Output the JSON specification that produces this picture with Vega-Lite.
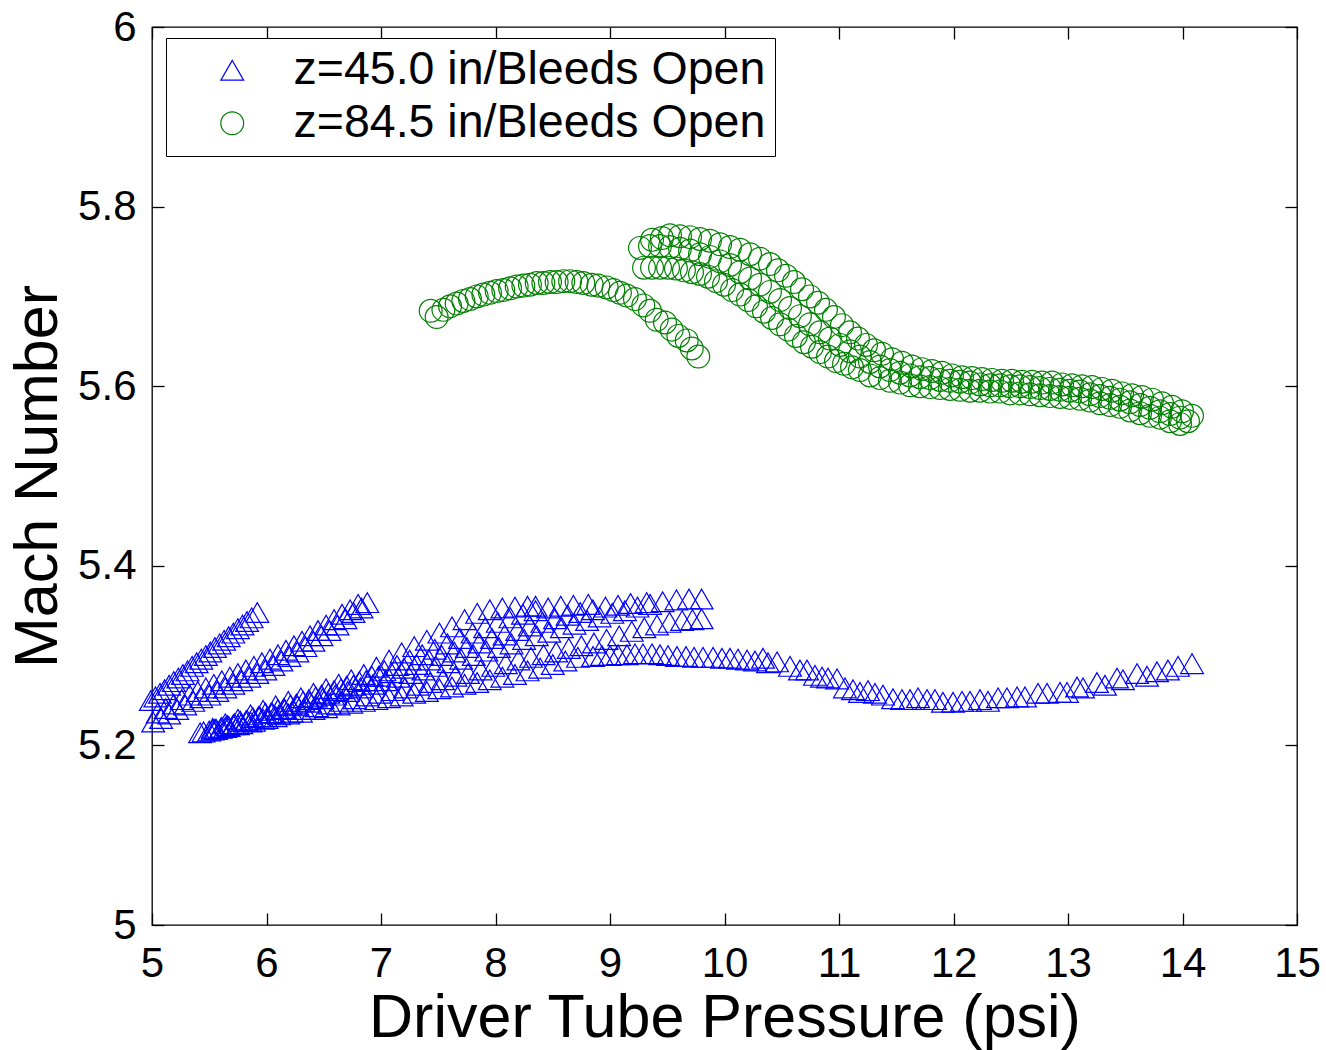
{
"$schema": "https://vega.github.io/schema/vega-lite/v6.json",
"width": 1145, "height": 898,
"autosize": {"type": "none"},
"padding": {"left": 152, "top": 27, "right": 29, "bottom": 125},
"background": "white",
"config": {
  "view": {"stroke": "black", "strokeWidth": 1.3},
  "font": "Liberation Sans",
  "axis": {"grid": false, "domain": false, "ticks": true, "tickColor": "black", "tickWidth": 1.3, "tickSize": -12,
    "labelColor": "black", "labelFont": "Liberation Sans", "labelFontSize": 42,
    "titleFont": "Liberation Sans", "titleFontSize": 61, "titleFontWeight": "normal", "titleColor": "black"},
  "legend": {"labelFont": "Liberation Sans", "labelFontSize": 46.5, "labelColor": "black"}
},
"datasets": {
"blue": [
{"psi":4.99,"mach":5.250},{"psi":5.03,"mach":5.254},{"psi":5.07,"mach":5.258},{"psi":5.11,"mach":5.262},{"psi":5.15,"mach":5.267},{"psi":5.19,"mach":5.271},{"psi":5.23,"mach":5.275},{"psi":5.27,"mach":5.279},{"psi":5.31,"mach":5.283},{"psi":5.35,"mach":5.288},{"psi":5.39,"mach":5.292},{"psi":5.43,"mach":5.296},{"psi":5.47,"mach":5.300},{"psi":5.51,"mach":5.304},{"psi":5.55,"mach":5.309},{"psi":5.59,"mach":5.313},{"psi":5.63,"mach":5.317},{"psi":5.67,"mach":5.321},{"psi":5.71,"mach":5.325},{"psi":5.75,"mach":5.330},{"psi":5.79,"mach":5.334},{"psi":5.83,"mach":5.338},{"psi":5.87,"mach":5.342},{"psi":5.92,"mach":5.348},
{"psi":5.01,"mach":5.226},{"psi":5.08,"mach":5.230},{"psi":5.15,"mach":5.235},{"psi":5.22,"mach":5.240},{"psi":5.29,"mach":5.245},{"psi":5.36,"mach":5.249},{"psi":5.43,"mach":5.253},{"psi":5.50,"mach":5.256},{"psi":5.57,"mach":5.260},{"psi":5.64,"mach":5.264},{"psi":5.71,"mach":5.268},{"psi":5.78,"mach":5.272},{"psi":5.85,"mach":5.276},{"psi":5.92,"mach":5.280},{"psi":5.99,"mach":5.284},{"psi":6.06,"mach":5.289},{"psi":6.13,"mach":5.294},{"psi":6.20,"mach":5.299},{"psi":6.27,"mach":5.304},{"psi":6.34,"mach":5.310},{"psi":6.41,"mach":5.316},{"psi":6.48,"mach":5.322},{"psi":6.55,"mach":5.328},{"psi":6.62,"mach":5.334},{"psi":6.69,"mach":5.341},{"psi":6.76,"mach":5.348},{"psi":6.83,"mach":5.353},{"psi":6.88,"mach":5.359},
{"psi":5.05,"mach":5.236},{"psi":5.12,"mach":5.241},{"psi":5.19,"mach":5.246},{"psi":5.26,"mach":5.251},{"psi":5.33,"mach":5.256},{"psi":5.40,"mach":5.260},{"psi":5.47,"mach":5.264},{"psi":5.54,"mach":5.268},{"psi":5.61,"mach":5.272},{"psi":5.68,"mach":5.276},{"psi":5.75,"mach":5.280},{"psi":5.82,"mach":5.284},{"psi":5.89,"mach":5.288},{"psi":5.96,"mach":5.292},{"psi":6.03,"mach":5.296},{"psi":6.10,"mach":5.301},{"psi":6.17,"mach":5.306},{"psi":6.24,"mach":5.311},{"psi":6.31,"mach":5.316},{"psi":6.38,"mach":5.322},{"psi":6.45,"mach":5.328},{"psi":6.52,"mach":5.334},{"psi":6.59,"mach":5.340},{"psi":6.66,"mach":5.346},{"psi":6.73,"mach":5.351},{"psi":6.80,"mach":5.357},
{"psi":5.42,"mach":5.214},{"psi":5.53,"mach":5.217},{"psi":5.64,"mach":5.220},{"psi":5.75,"mach":5.223},{"psi":5.86,"mach":5.226},{"psi":5.97,"mach":5.229},{"psi":6.08,"mach":5.232},{"psi":6.19,"mach":5.235},{"psi":6.30,"mach":5.237},{"psi":6.41,"mach":5.240},{"psi":6.52,"mach":5.242},{"psi":6.63,"mach":5.245},{"psi":6.74,"mach":5.247},{"psi":6.85,"mach":5.249},{"psi":6.96,"mach":5.251},{"psi":7.07,"mach":5.253},{"psi":7.18,"mach":5.255},{"psi":7.29,"mach":5.258},{"psi":7.40,"mach":5.260},{"psi":7.51,"mach":5.263},{"psi":7.62,"mach":5.265},{"psi":7.73,"mach":5.268},{"psi":7.84,"mach":5.270},{"psi":7.95,"mach":5.273},{"psi":8.06,"mach":5.276},{"psi":8.17,"mach":5.279},{"psi":8.28,"mach":5.283},{"psi":8.39,"mach":5.286},{"psi":8.50,"mach":5.290},{"psi":8.61,"mach":5.294},{"psi":8.72,"mach":5.298},
{"psi":8.852,"mach":5.299},{"psi":8.930,"mach":5.300},{"psi":9.000,"mach":5.300},{"psi":9.070,"mach":5.301},{"psi":9.148,"mach":5.301},{"psi":9.218,"mach":5.302},{"psi":9.288,"mach":5.302},{"psi":9.367,"mach":5.302},{"psi":9.437,"mach":5.301},{"psi":9.507,"mach":5.300},{"psi":9.585,"mach":5.299},{"psi":9.664,"mach":5.299},{"psi":9.734,"mach":5.298},{"psi":9.812,"mach":5.298},{"psi":9.900,"mach":5.298},{"psi":9.978,"mach":5.297},{"psi":10.048,"mach":5.297},{"psi":10.118,"mach":5.296},{"psi":10.197,"mach":5.295},{"psi":10.266,"mach":5.294},{"psi":10.336,"mach":5.297},{"psi":10.380,"mach":5.292},{"psi":10.459,"mach":5.293},{"psi":10.572,"mach":5.288},{"psi":10.659,"mach":5.284},{"psi":10.721,"mach":5.284},{"psi":10.790,"mach":5.278},{"psi":10.852,"mach":5.276},{"psi":10.904,"mach":5.275},{"psi":10.983,"mach":5.274},{"psi":11.052,"mach":5.264},{"psi":11.122,"mach":5.262},{"psi":11.183,"mach":5.259},{"psi":11.253,"mach":5.261},{"psi":11.314,"mach":5.258},{"psi":11.384,"mach":5.256},{"psi":11.472,"mach":5.252},{"psi":11.550,"mach":5.251},{"psi":11.620,"mach":5.251},{"psi":11.690,"mach":5.253},{"psi":11.769,"mach":5.251},{"psi":11.838,"mach":5.251},{"psi":11.908,"mach":5.248},{"psi":11.996,"mach":5.248},{"psi":12.074,"mach":5.249},{"psi":12.144,"mach":5.249},{"psi":12.231,"mach":5.251},{"psi":12.301,"mach":5.249},{"psi":12.389,"mach":5.253},{"psi":12.467,"mach":5.253},{"psi":12.555,"mach":5.254},{"psi":12.624,"mach":5.254},{"psi":12.738,"mach":5.258},{"psi":12.817,"mach":5.258},{"psi":12.930,"mach":5.259},{"psi":12.991,"mach":5.259},{"psi":13.079,"mach":5.265},{"psi":13.131,"mach":5.264},{"psi":13.253,"mach":5.270},{"psi":13.323,"mach":5.267},{"psi":13.428,"mach":5.275},{"psi":13.480,"mach":5.273},{"psi":13.603,"mach":5.280},{"psi":13.690,"mach":5.277},{"psi":13.777,"mach":5.282},{"psi":13.873,"mach":5.284},{"psi":13.961,"mach":5.288},{"psi":14.083,"mach":5.291},
{"psi":5.45,"mach":5.215},{"psi":5.56,"mach":5.218},{"psi":5.67,"mach":5.221},{"psi":5.78,"mach":5.224},{"psi":5.89,"mach":5.227},{"psi":6.00,"mach":5.230},{"psi":6.11,"mach":5.234},{"psi":6.22,"mach":5.237},{"psi":6.33,"mach":5.240},{"psi":6.44,"mach":5.243},{"psi":6.55,"mach":5.246},{"psi":6.66,"mach":5.249},{"psi":6.77,"mach":5.252},{"psi":6.88,"mach":5.255},{"psi":6.99,"mach":5.258},{"psi":7.10,"mach":5.261},{"psi":7.21,"mach":5.264},{"psi":7.32,"mach":5.267},{"psi":7.43,"mach":5.270},{"psi":7.54,"mach":5.273},{"psi":7.65,"mach":5.277},{"psi":7.76,"mach":5.280},{"psi":7.87,"mach":5.284},{"psi":7.98,"mach":5.288},{"psi":8.09,"mach":5.291},{"psi":8.20,"mach":5.295},{"psi":8.31,"mach":5.298},{"psi":8.42,"mach":5.301},{"psi":8.53,"mach":5.304},{"psi":8.64,"mach":5.308},{"psi":8.75,"mach":5.311},{"psi":8.86,"mach":5.314},{"psi":8.97,"mach":5.318},{"psi":9.08,"mach":5.322},{"psi":9.19,"mach":5.327},{"psi":9.30,"mach":5.331},{"psi":9.41,"mach":5.334},{"psi":9.52,"mach":5.337},{"psi":9.63,"mach":5.339},{"psi":9.72,"mach":5.340},{"psi":9.80,"mach":5.341},
{"psi":5.50,"mach":5.216},{"psi":5.61,"mach":5.220},{"psi":5.72,"mach":5.224},{"psi":5.83,"mach":5.228},{"psi":5.94,"mach":5.232},{"psi":6.05,"mach":5.236},{"psi":6.16,"mach":5.240},{"psi":6.27,"mach":5.244},{"psi":6.38,"mach":5.248},{"psi":6.49,"mach":5.252},{"psi":6.60,"mach":5.256},{"psi":6.71,"mach":5.260},{"psi":6.82,"mach":5.264},{"psi":6.93,"mach":5.268},{"psi":7.04,"mach":5.272},{"psi":7.15,"mach":5.276},{"psi":7.26,"mach":5.280},{"psi":7.37,"mach":5.284},{"psi":7.48,"mach":5.288},{"psi":7.59,"mach":5.292},{"psi":7.70,"mach":5.296},{"psi":7.81,"mach":5.300},{"psi":7.92,"mach":5.305},{"psi":8.03,"mach":5.309},{"psi":8.14,"mach":5.313},{"psi":8.25,"mach":5.318},{"psi":8.36,"mach":5.322},{"psi":8.47,"mach":5.326},{"psi":8.58,"mach":5.331},{"psi":8.69,"mach":5.335},{"psi":8.80,"mach":5.339},{"psi":8.91,"mach":5.343},{"psi":9.02,"mach":5.347},{"psi":9.13,"mach":5.350},{"psi":9.24,"mach":5.354},{"psi":9.35,"mach":5.357},{"psi":9.46,"mach":5.360},{"psi":9.58,"mach":5.362},{"psi":9.69,"mach":5.363},{"psi":9.80,"mach":5.363},
{"psi":5.55,"mach":5.218},{"psi":5.66,"mach":5.222},{"psi":5.77,"mach":5.227},{"psi":5.88,"mach":5.231},{"psi":5.99,"mach":5.236},{"psi":6.10,"mach":5.240},{"psi":6.21,"mach":5.245},{"psi":6.32,"mach":5.249},{"psi":6.43,"mach":5.254},{"psi":6.54,"mach":5.258},{"psi":6.65,"mach":5.263},{"psi":6.76,"mach":5.267},{"psi":6.87,"mach":5.272},{"psi":6.98,"mach":5.277},{"psi":7.09,"mach":5.281},{"psi":7.20,"mach":5.286},{"psi":7.31,"mach":5.290},{"psi":7.42,"mach":5.295},{"psi":7.53,"mach":5.300},{"psi":7.64,"mach":5.304},{"psi":7.75,"mach":5.309},{"psi":7.86,"mach":5.314},{"psi":7.97,"mach":5.319},{"psi":8.08,"mach":5.323},{"psi":8.19,"mach":5.328},{"psi":8.30,"mach":5.333},{"psi":8.41,"mach":5.337},{"psi":8.52,"mach":5.341},{"psi":8.63,"mach":5.345},{"psi":8.74,"mach":5.348},{"psi":8.85,"mach":5.351},{"psi":8.96,"mach":5.354},{"psi":9.07,"mach":5.356},{"psi":9.18,"mach":5.358},{"psi":9.32,"mach":5.359},
{"psi":5.60,"mach":5.219},{"psi":5.71,"mach":5.223},{"psi":5.82,"mach":5.227},{"psi":5.93,"mach":5.232},{"psi":6.04,"mach":5.236},{"psi":6.15,"mach":5.241},{"psi":6.26,"mach":5.246},{"psi":6.37,"mach":5.251},{"psi":6.48,"mach":5.256},{"psi":6.59,"mach":5.261},{"psi":6.70,"mach":5.266},{"psi":6.81,"mach":5.271},{"psi":6.92,"mach":5.277},{"psi":7.03,"mach":5.283},{"psi":7.14,"mach":5.289},{"psi":7.25,"mach":5.295},{"psi":7.36,"mach":5.301},{"psi":7.47,"mach":5.307},{"psi":7.58,"mach":5.313},{"psi":7.69,"mach":5.319},{"psi":7.80,"mach":5.325},{"psi":7.91,"mach":5.331},{"psi":8.02,"mach":5.337},{"psi":8.13,"mach":5.342},{"psi":8.24,"mach":5.346},{"psi":8.35,"mach":5.350},{"psi":8.46,"mach":5.353},{"psi":8.57,"mach":5.355},{"psi":8.68,"mach":5.356},{"psi":8.81,"mach":5.357},
{"psi":5.53,"mach":5.219},{"psi":5.64,"mach":5.224},{"psi":5.75,"mach":5.229},{"psi":5.86,"mach":5.234},{"psi":5.97,"mach":5.239},{"psi":6.08,"mach":5.244},{"psi":6.19,"mach":5.249},{"psi":6.30,"mach":5.253},{"psi":6.41,"mach":5.258},{"psi":6.52,"mach":5.263},{"psi":6.63,"mach":5.268},{"psi":6.74,"mach":5.273},{"psi":6.85,"mach":5.279},{"psi":6.96,"mach":5.287},{"psi":7.07,"mach":5.295},{"psi":7.18,"mach":5.303},{"psi":7.29,"mach":5.310},{"psi":7.40,"mach":5.317},{"psi":7.51,"mach":5.325},{"psi":7.62,"mach":5.332},{"psi":7.73,"mach":5.340},{"psi":7.84,"mach":5.347},{"psi":7.95,"mach":5.351},{"psi":8.06,"mach":5.353},{"psi":8.17,"mach":5.354},{"psi":8.28,"mach":5.355},{"psi":8.35,"mach":5.355}
],
"green": [
{"psi":7.434,"mach":5.684},{"psi":7.486,"mach":5.677},{"psi":7.545,"mach":5.685},{"psi":7.603,"mach":5.689},{"psi":7.661,"mach":5.692},{"psi":7.719,"mach":5.695},{"psi":7.777,"mach":5.697},{"psi":7.836,"mach":5.700},{"psi":7.894,"mach":5.702},{"psi":7.952,"mach":5.704},{"psi":8.010,"mach":5.706},{"psi":8.068,"mach":5.707},{"psi":8.127,"mach":5.709},{"psi":8.185,"mach":5.711},{"psi":8.243,"mach":5.712},{"psi":8.301,"mach":5.713},{"psi":8.360,"mach":5.715},{"psi":8.418,"mach":5.715},{"psi":8.476,"mach":5.716},{"psi":8.534,"mach":5.716},{"psi":8.592,"mach":5.717},{"psi":8.651,"mach":5.717},{"psi":8.709,"mach":5.716},{"psi":8.767,"mach":5.715},{"psi":8.840,"mach":5.713},{"psi":8.898,"mach":5.712},{"psi":8.971,"mach":5.710},{"psi":9.029,"mach":5.707},{"psi":9.087,"mach":5.704},{"psi":9.146,"mach":5.701},{"psi":9.218,"mach":5.697},{"psi":9.291,"mach":5.690},{"psi":9.349,"mach":5.684},{"psi":9.408,"mach":5.674},{"psi":9.480,"mach":5.671},{"psi":9.539,"mach":5.663},{"psi":9.597,"mach":5.656},{"psi":9.670,"mach":5.651},{"psi":9.714,"mach":5.642},{"psi":9.771,"mach":5.633},
{"psi":9.367,"mach":5.763},{"psi":9.454,"mach":5.765},{"psi":9.524,"mach":5.768},{"psi":9.611,"mach":5.767},{"psi":9.699,"mach":5.766},{"psi":9.786,"mach":5.764},{"psi":9.873,"mach":5.762},{"psi":9.961,"mach":5.758},{"psi":10.048,"mach":5.755},{"psi":10.135,"mach":5.752},{"psi":10.223,"mach":5.747},{"psi":10.310,"mach":5.742},{"psi":10.397,"mach":5.736},{"psi":10.467,"mach":5.729},{"psi":10.537,"mach":5.723},{"psi":10.607,"mach":5.716},{"psi":10.677,"mach":5.708},{"psi":10.747,"mach":5.700},{"psi":10.817,"mach":5.693},{"psi":10.886,"mach":5.685},{"psi":10.956,"mach":5.677},{"psi":11.026,"mach":5.668},{"psi":11.096,"mach":5.660},{"psi":11.166,"mach":5.653},{"psi":11.236,"mach":5.646},{"psi":11.306,"mach":5.640},{"psi":11.376,"mach":5.636},{"psi":11.463,"mach":5.630},{"psi":11.550,"mach":5.626},{"psi":11.638,"mach":5.622},{"psi":11.725,"mach":5.619},{"psi":11.812,"mach":5.617},{"psi":11.900,"mach":5.615},{"psi":11.987,"mach":5.612},{"psi":12.074,"mach":5.610},{"psi":12.162,"mach":5.609},{"psi":12.249,"mach":5.608},{"psi":12.336,"mach":5.607},{"psi":12.424,"mach":5.606},{"psi":12.511,"mach":5.606},{"psi":12.598,"mach":5.605},{"psi":12.686,"mach":5.605},{"psi":12.773,"mach":5.604},{"psi":12.860,"mach":5.604},{"psi":12.948,"mach":5.602},{"psi":13.035,"mach":5.601},{"psi":13.122,"mach":5.600},{"psi":13.210,"mach":5.599},{"psi":13.297,"mach":5.597},{"psi":13.384,"mach":5.595},{"psi":13.472,"mach":5.592},{"psi":13.559,"mach":5.590},{"psi":13.646,"mach":5.588},{"psi":13.734,"mach":5.585},{"psi":13.821,"mach":5.581},{"psi":13.908,"mach":5.577},{"psi":13.996,"mach":5.572},{"psi":14.083,"mach":5.567},
{"psi":9.262,"mach":5.754},{"psi":9.349,"mach":5.756},{"psi":9.437,"mach":5.756},{"psi":9.524,"mach":5.755},{"psi":9.611,"mach":5.753},{"psi":9.699,"mach":5.751},{"psi":9.786,"mach":5.747},{"psi":9.873,"mach":5.744},{"psi":9.961,"mach":5.739},{"psi":10.048,"mach":5.735},{"psi":10.135,"mach":5.727},{"psi":10.223,"mach":5.720},{"psi":10.310,"mach":5.713},{"psi":10.397,"mach":5.705},{"psi":10.485,"mach":5.696},{"psi":10.572,"mach":5.687},{"psi":10.659,"mach":5.678},{"psi":10.747,"mach":5.669},{"psi":10.834,"mach":5.660},{"psi":10.921,"mach":5.653},{"psi":11.009,"mach":5.646},{"psi":11.096,"mach":5.639},{"psi":11.183,"mach":5.633},{"psi":11.271,"mach":5.627},{"psi":11.358,"mach":5.622},{"psi":11.445,"mach":5.618},{"psi":11.533,"mach":5.615},{"psi":11.620,"mach":5.612},{"psi":11.707,"mach":5.610},{"psi":11.795,"mach":5.609},{"psi":11.882,"mach":5.607},{"psi":11.969,"mach":5.606},{"psi":12.057,"mach":5.605},{"psi":12.144,"mach":5.604},{"psi":12.231,"mach":5.602},{"psi":12.319,"mach":5.601},{"psi":12.406,"mach":5.601},{"psi":12.493,"mach":5.600},{"psi":12.581,"mach":5.600},{"psi":12.668,"mach":5.599},{"psi":12.755,"mach":5.598},{"psi":12.843,"mach":5.597},{"psi":12.930,"mach":5.596},{"psi":13.017,"mach":5.595},{"psi":13.105,"mach":5.594},{"psi":13.192,"mach":5.591},{"psi":13.279,"mach":5.589},{"psi":13.367,"mach":5.587},{"psi":13.454,"mach":5.585},{"psi":13.541,"mach":5.582},{"psi":13.629,"mach":5.579},{"psi":13.716,"mach":5.576},{"psi":13.803,"mach":5.572},{"psi":13.891,"mach":5.569},{"psi":13.978,"mach":5.565},{"psi":14.048,"mach":5.561},
{"psi":9.297,"mach":5.732},{"psi":9.367,"mach":5.732},{"psi":9.437,"mach":5.732},{"psi":9.507,"mach":5.732},{"psi":9.576,"mach":5.731},{"psi":9.646,"mach":5.729},{"psi":9.716,"mach":5.727},{"psi":9.786,"mach":5.725},{"psi":9.856,"mach":5.722},{"psi":9.926,"mach":5.717},{"psi":9.996,"mach":5.713},{"psi":10.066,"mach":5.707},{"psi":10.135,"mach":5.702},{"psi":10.205,"mach":5.696},{"psi":10.275,"mach":5.689},{"psi":10.345,"mach":5.683},{"psi":10.415,"mach":5.676},{"psi":10.485,"mach":5.669},{"psi":10.555,"mach":5.663},{"psi":10.624,"mach":5.656},{"psi":10.694,"mach":5.649},{"psi":10.764,"mach":5.644},{"psi":10.834,"mach":5.638},{"psi":10.904,"mach":5.633},{"psi":10.974,"mach":5.628},{"psi":11.044,"mach":5.625},{"psi":11.114,"mach":5.621},{"psi":11.183,"mach":5.618},{"psi":11.271,"mach":5.612},{"psi":11.358,"mach":5.609},{"psi":11.445,"mach":5.606},{"psi":11.533,"mach":5.604},{"psi":11.620,"mach":5.601},{"psi":11.707,"mach":5.600},{"psi":11.795,"mach":5.599},{"psi":11.882,"mach":5.598},{"psi":11.969,"mach":5.597},{"psi":12.057,"mach":5.596},{"psi":12.144,"mach":5.595},{"psi":12.231,"mach":5.595},{"psi":12.319,"mach":5.594},{"psi":12.406,"mach":5.594},{"psi":12.493,"mach":5.592},{"psi":12.581,"mach":5.592},{"psi":12.668,"mach":5.591},{"psi":12.755,"mach":5.590},{"psi":12.843,"mach":5.589},{"psi":12.930,"mach":5.588},{"psi":13.017,"mach":5.587},{"psi":13.105,"mach":5.586},{"psi":13.192,"mach":5.584},{"psi":13.279,"mach":5.581},{"psi":13.367,"mach":5.579},{"psi":13.454,"mach":5.577},{"psi":13.541,"mach":5.573},{"psi":13.629,"mach":5.570},{"psi":13.716,"mach":5.567},{"psi":13.803,"mach":5.565},{"psi":13.891,"mach":5.561},{"psi":13.978,"mach":5.558}
]
},
"layer": [
{
  "data": {"name": "blue"},
  "mark": {"type": "point", "filled": false, "size": 520, "strokeWidth": 1.2, "opacity": 1},
  "encoding": {
    "x": {"field": "psi", "type": "quantitative", "scale": {"domain": [5, 15], "nice": false, "zero": false},
      "axis": {"orient": "bottom", "values": [5,6,7,8,9,10,11,12,13,14,15], "format": "d", "labelPadding": 30, "labelFlush": false, "labelOverlap": false, "title": "Driver Tube Pressure (psi)", "titlePadding": 4}},
    "y": {"field": "mach", "type": "quantitative", "scale": {"domain": [5, 6], "nice": false, "zero": false},
      "axis": {"orient": "left", "values": [5,5.2,5.4,5.6,5.8,6], "format": ".1~f", "labelPadding": 28, "labelFlush": false, "labelOverlap": false, "title": "Mach Number", "titlePadding": 8}},
    "color": {"datum": "z=45.0 in/Bleeds Open", "type": "nominal",
      "scale": {"domain": ["z=45.0 in/Bleeds Open", "z=84.5 in/Bleeds Open"], "range": ["#0000ff", "#008000"]},
      "legend": {"orient": "none", "legendX": 14, "legendY": 11, "title": null, "fillColor": "white", "strokeColor": "black",
        "padding": 9, "symbolOffset": 34, "labelOffset": 38, "rowPadding": 6, "symbolSize": 520, "symbolStrokeWidth": 1.2,
        "labelLimit": 1000, "labelFontSize": 46.5, "labelExpr": "datum.label + '\u2002\u2002'"}},
    "shape": {"datum": "z=45.0 in/Bleeds Open", "type": "nominal",
      "scale": {"domain": ["z=45.0 in/Bleeds Open", "z=84.5 in/Bleeds Open"], "range": ["triangle-up", "circle"]}}
  }
},
{
  "data": {"name": "green"},
  "mark": {"type": "point", "filled": false, "size": 520, "strokeWidth": 1.2, "opacity": 1},
  "encoding": {
    "x": {"field": "psi", "type": "quantitative", "axis": {"orient": "top", "values": [5,6,7,8,9,10,11,12,13,14,15], "labels": false, "title": null}},
    "y": {"field": "mach", "type": "quantitative", "axis": {"orient": "right", "values": [5,5.2,5.4,5.6,5.8,6], "labels": false, "title": null}},
    "color": {"datum": "z=84.5 in/Bleeds Open", "type": "nominal"},
    "shape": {"datum": "z=84.5 in/Bleeds Open", "type": "nominal"}
  }
}
],
"resolve": {"axis": {"x": "independent", "y": "independent"}}
}
